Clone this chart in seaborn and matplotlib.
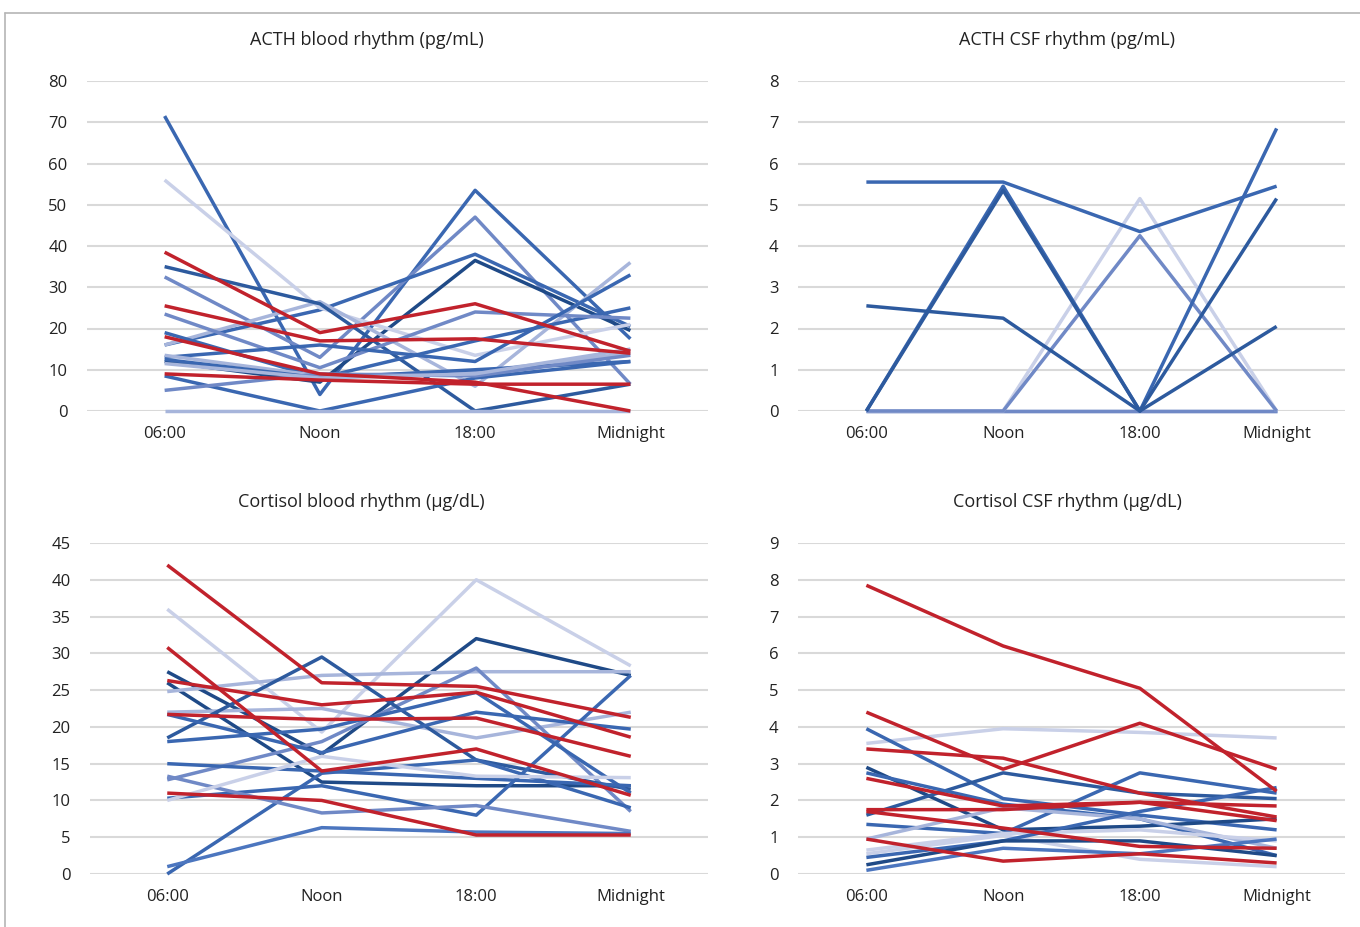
import numpy as np
import pandas as pd
import matplotlib.pyplot as plt
import seaborn as sns
from matplotlib.lines import Line2D

# sampling times shared by all four panels
times = ['06:00', 'Noon', '18:00', 'Midnight']

# ACTH blood (pg/mL), one row per subject
acth_blood = [
    [71.5, 4, 53.5, 17.5],
    [32.5, 13, 47, 6.5],
    [16, 24.5, 38, 20.5],
    [12, 7, 36.5, 19.5],
    [56, 25, 13.5, 21],
    [16, 26.5, 6, 36],
    [35, 26, 0, 6.5],
    [19, 8, 17, 25],
    [8.5, 0, 8, 12],
    [23.5, 10.5, 24, 22.5],
    [13, 16, 12, 33],
    [13.5, 8.5, 9.5, 14],
    [12.5, 8, 10, 12],
    [5, 9, 8.5, 13.5],
    [11.5, 8, 9, 15],
    [0, 0, 0, 0],
    [38.5, 19, 26, 14.5],
    [25.5, 17, 17.5, 14],
    [18, 9, 7, 0],
    [9, 7.5, 6.5, 6.5],
]
acth_blood_shade = ['mid', 'lighter', 'mid', 'navy', 'vlight', 'light', 'dark',
                    'mid', 'mid', 'lighter', 'mid', 'light', 'mid', 'lighter',
                    'light', 'light', 'red', 'red', 'red', 'red']

# ACTH CSF (pg/mL)
acth_csf = [
    [0, 0, 0, 0],
    [0, 0, 0, 0],
    [0, 0, 5.15, 0],
    [0, 0, 4.25, 0],
    [5.55, 5.55, 4.35, 5.45],
    [0, 5.45, 0, 6.85],
    [0, 5.35, 0, 5.15],
    [2.55, 2.25, 0, 2.05],
]
acth_csf_shade = ['light', 'lighter', 'vlight', 'lighter', 'mid', 'mid', 'dark', 'dark']

# Cortisol blood (ug/dL)
cort_blood = [
    [27.5, 16.3, 32, 27],
    [26, 12.5, 12, 12],
    [36, 19.3, 40, 28.3],
    [24.8, 27, 27.5, 27.5],
    [22, 22.5, 18.5, 22],
    [12.8, 18, 28, 8.5],
    [18.5, 29.5, 15.5, 11.5],
    [18, 19.7, 24.7, 11],
    [21.7, 16.5, 22, 19.7],
    [15, 14, 13, 12],
    [10.3, 12, 8, 27],
    [0, 13.7, 15.5, 9],
    [13.3, 8.3, 9.3, 5.8],
    [10, 16, 13.3, 13.1],
    [1, 6.3, 5.7, 5.5],
    [42, 26, 25.5, 21.3],
    [30.8, 14, 17, 10.7],
    [26.3, 23, 24.7, 18.6],
    [21.7, 21, 21.2, 16],
    [11, 10, 5.3, 5.3],
]
cort_blood_shade = ['navy', 'navy', 'vlight', 'light', 'light', 'lighter', 'dark',
                    'mid', 'mid', 'mid', 'mid', 'mid', 'lighter', 'vlight', 'mid2',
                    'red', 'red', 'red', 'red', 'red']

# Cortisol CSF (ug/dL)
cort_csf = [
    [3.55, 3.95, 3.85, 3.7],
    [3.95, 2.05, 1.6, 1.2],
    [2.9, 1.2, 1.3, 1.5],
    [1.6, 2.75, 2.2, 2.05],
    [2.75, 1.9, 1.5, 0.5],
    [1.35, 1.1, 2.75, 2.2],
    [0.95, 1.8, 1.5, 0.7],
    [0.65, 1.1, 1.2, 0.9],
    [0.55, 1.05, 0.4, 0.2],
    [0.45, 0.9, 1.7, 2.35],
    [0.25, 0.9, 0.9, 0.5],
    [0.1, 0.7, 0.55, 0.95],
    [7.85, 6.2, 5.05, 2.25],
    [4.4, 2.85, 4.1, 2.85],
    [3.4, 3.15, 2.2, 1.55],
    [2.6, 1.85, 1.95, 1.85],
    [1.75, 1.75, 1.95, 1.45],
    [1.7, 1.25, 0.75, 0.7],
    [0.95, 0.35, 0.55, 0.3],
]
cort_csf_shade = ['vlight', 'mid', 'navy', 'dark', 'mid', 'mid', 'light', 'vlight',
                  'vlight', 'mid', 'navy', 'mid2', 'red', 'red', 'red', 'red',
                  'red', 'red', 'red']

colours = {
    'red': '#C1222C',
    'navy': '#1F4A87',
    'dark': '#2D5A9E',
    'mid': '#3A67B1',
    'mid2': '#4C76BF',
    'lighter': '#7089C6',
    'light': '#A7B5DB',
    'vlight': '#C9D0E8',
}

sns.set_style('white')
plt.rcParams['font.family'] = ['Open Sans', 'DejaVu Sans']

fig = plt.figure(figsize=(13.6, 9.27), dpi=100)

panels = [
    (acth_blood, acth_blood_shade, 'ACTH blood rhythm (pg/mL)', 80, 10,
     [87, 81, 708, 411], 367),
    (acth_csf, acth_csf_shade, 'ACTH CSF rhythm (pg/mL)', 8, 1,
     [798, 81, 1345, 411], 1067),
    (cort_blood, cort_blood_shade, 'Cortisol blood rhythm (\u03bcg/dL)', 45, 5,
     [90, 543, 708, 874], 361),
    (cort_csf, cort_csf_shade, 'Cortisol CSF rhythm (\u03bcg/dL)', 9, 1,
     [798, 543, 1345, 874], 1067),
]

W, H = 1360, 927
for rows, shades, title, ymax, step, box, title_x in panels:
    x0, y0, x1, y1 = box
    ax = fig.add_axes([x0 / W, 1 - y1 / H, (x1 - x0) / W, (y1 - y0) / H])
    records = []
    for i, row in enumerate(rows):
        for t, v in zip(times, row):
            records.append({'time': t, 'value': v, 'subject': 's%d' % i})
    df = pd.DataFrame(records)
    pal = {'s%d' % i: colours[s] for i, s in enumerate(shades)}
    sns.lineplot(data=df, x='time', y='value', hue='subject', palette=pal,
                 sort=False, legend=False, linewidth=2.5, ax=ax,
                 solid_capstyle='butt', clip_on=False)
    ax.set_xlim(-0.5, 3.5)
    ax.set_ylim(0, ymax)
    ax.set_yticks(np.arange(0, ymax + step / 2, step))
    ax.yaxis.grid(True, color='#D9D9D9', linewidth=1.5)
    ax.set_axisbelow(True)
    for sp in ax.spines.values():
        sp.set_visible(False)
    ax.tick_params(axis='both', length=0, labelsize=12, colors='#222222')
    ax.tick_params(axis='y', pad=14)
    ax.tick_params(axis='x', pad=11)
    ax.set_xlabel('')
    ax.set_ylabel('')
    fig.text(title_x / W, 1 - (y0 - 41) / H, title, ha='center', va='center',
             fontsize=13, color='#222222')

# thin grey frame around the figure
fig.add_artist(Line2D([5 / W, 1], [1 - 13 / H, 1 - 13 / H], color='#B5B5B5', lw=1.2))
fig.add_artist(Line2D([5 / W, 5 / W], [0, 1 - 13 / H], color='#B5B5B5', lw=1.2))

fig.savefig('out.png', dpi=100)
